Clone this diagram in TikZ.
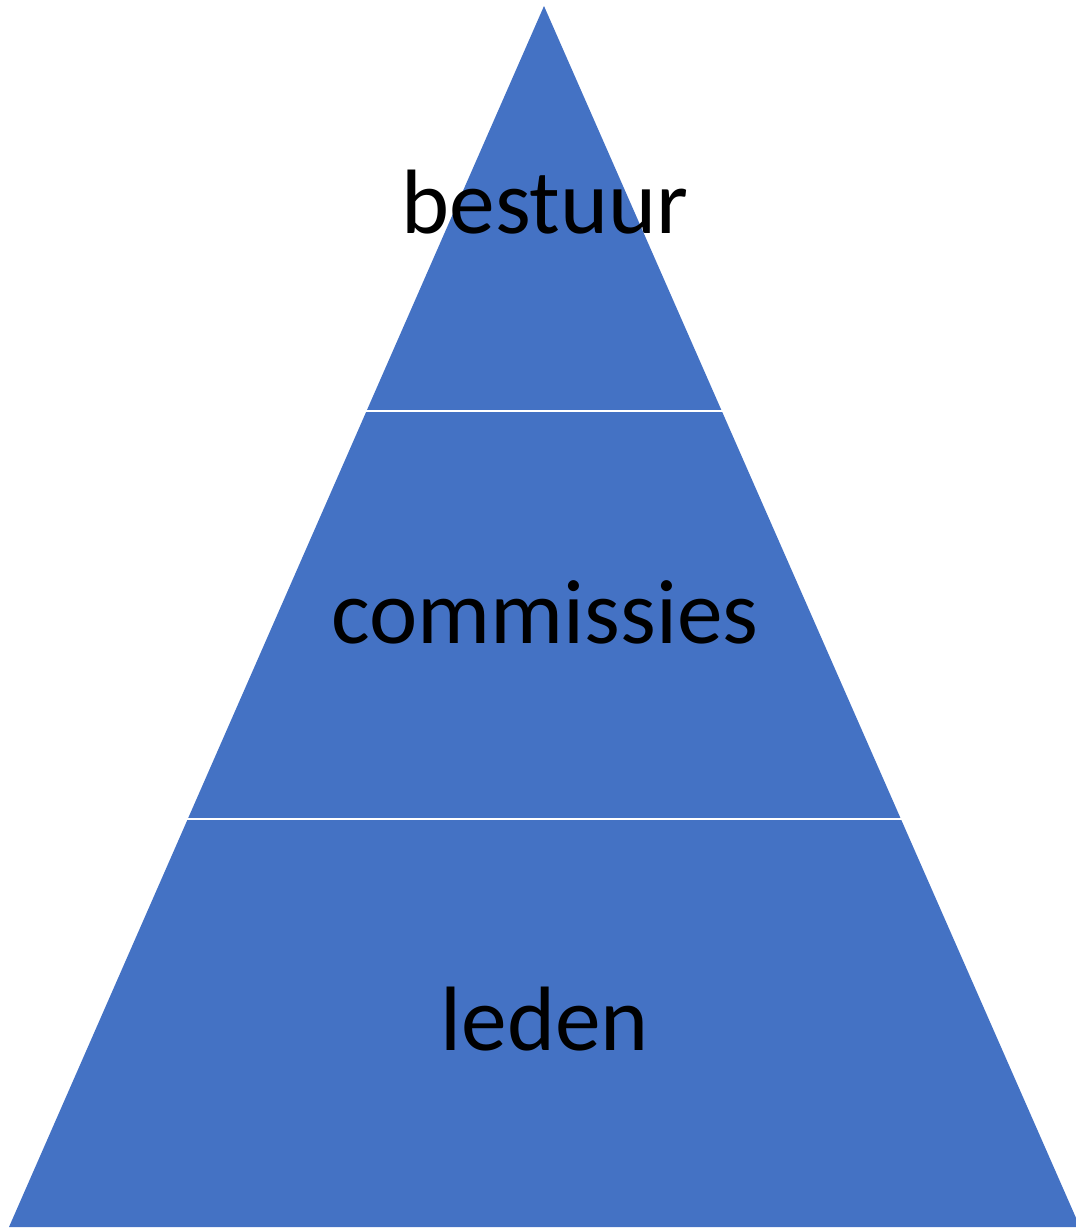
\documentclass[tikz,border=0pt]{standalone}
\usepackage{fontspec}
\setmainfont{Carlito}
\usetikzlibrary{calc}
\definecolor{laagblauw}{HTML}{4472C4}
\tikzset{
laag/.style={fill=laagblauw,draw=none},
scheiding/.style={draw=white,line width=0.6pt},
laag tekst/.style={anchor=base,inner sep=0pt,font=\fontsize{26}{30}\selectfont}}

\begin{document}
\begin{tikzpicture}[x=0.01cm,y=-0.01cm]

\useasboundingbox (0,0) rectangle (1076,1230);

\coordinate (top) at (544,6);
\coordinate (l1) at (367,411);
\coordinate (r1) at (721,411);
\coordinate (l2) at (188,819);
\coordinate (r2) at (901,819);
\coordinate (l3) at (9,1227);
\coordinate (r3) at (1080,1227);

\fill[laag] (top) -- (r3) -- (l3) -- cycle;

\draw[scheiding] ($(l1)+(-5,0)$) -- ($(r1)+(5,0)$);
\draw[scheiding] ($(l2)+(-5,0)$) -- ($(r2)+(5,0)$);

\node[laag tekst] (bestuur) at (545,233) {bestuur};
\node[laag tekst] (commissies) at (545,643) {commissies};
\node[laag tekst] (leden) at (545,1050) {leden};

\end{tikzpicture}
\end{document}
